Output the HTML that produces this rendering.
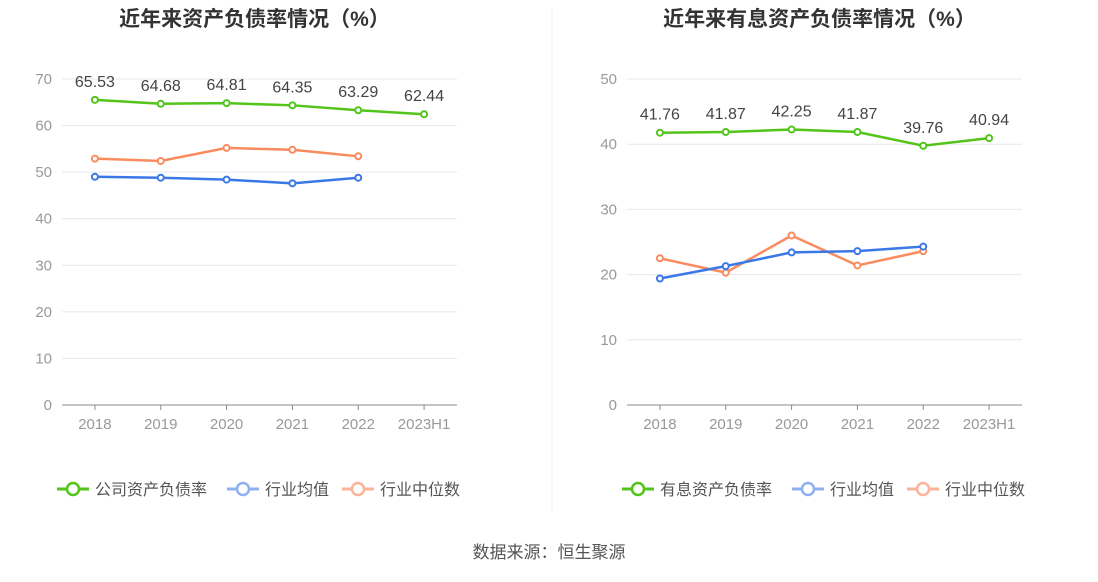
<!DOCTYPE html>
<html><head><meta charset="utf-8">
<style>
body{margin:0;width:1098px;height:577px;background:#fff;font-family:"Liberation Sans","Noto Sans CJK SC",sans-serif;overflow:hidden}
svg text{font-family:"Liberation Sans","Noto Sans CJK SC",sans-serif}
</style></head><body>
<svg id="svg" width="1098" height="577">
<line x1="552" y1="10" x2="552" y2="510" stroke="#eee"/>
<text x="549" y="558" text-anchor="middle" font-size="17" fill="#555">数据来源：恒生聚源</text>
</svg>
<script>
const years=["2018","2019","2020","2021","2022","2023H1"];
const leftCompany=[65.53,64.68,64.81,64.35,63.29,62.44];
const leftAvg=[49.0,48.8,48.4,47.6,48.8];
const leftMed=[52.9,52.4,55.2,54.8,53.4];
const rightCompany=[41.76,41.87,42.25,41.87,39.76,40.94];
const rightAvg=[19.4,21.3,23.4,23.6,24.3];
const rightMed=[22.5,20.3,26.0,21.4,23.6];
const leftTicks=[0,10,20,30,40,50,60,70];
const rightTicks=[0,10,20,30,40,50];
const svg=document.getElementById('svg');const NS="http://www.w3.org/2000/svg";
function mk(t,a,p){const e=document.createElementNS(NS,t);for(const k in a)e.setAttribute(k,a[k]);(p||svg).appendChild(e);return e;}
function chart(o){
 const g=mk('g',{});
 
 
 const x0=o.x0,x1=o.x1,yb=405,yt=79,max=o.ticks[o.ticks.length-1];
 const bw=(x1-x0)/years.length;
 const X=i=>x0+bw*(i+0.5);const Y=v=>yb-(v/max)*(yb-yt);
 const t=mk('text',{x:(x0+x1)/2-5,y:26,'text-anchor':'middle','font-size':21,'font-weight':'bold',fill:'#333'},g);t.textContent=o.title;
 
 
 o.ticks.forEach(v=>{
  if(v>0){const l=mk('line',{x1:x0,x2:x1,y1:Y(v),y2:Y(v),stroke:'#e6e8f0'},g);
  
  }
  const tt=mk('text',{x:x0-10,y:Y(v)+5,'text-anchor':'end','font-size':15,fill:'#999'},g);tt.textContent=v;
  
  
 });
 const ax=mk('line',{x1:x0,x2:x1,y1:yb,y2:yb,stroke:'#888'},g);
 
 
 years.forEach((y,i)=>{
  const tk=mk('line',{x1:X(i),x2:X(i),y1:yb,y2:yb+5,stroke:'#888'},g);
  
  
  const tt=mk('text',{x:X(i),y:429,'text-anchor':'middle','font-size':15,fill:'#999'},g);tt.textContent=y;
  
  
 });
 function series(vals,color,nm,labels){
  const p=mk('polyline',{points:vals.map((v,i)=>X(i)+','+Y(v)).join(' '),fill:'none',stroke:color,'stroke-width':2.5},g);
  
  
  vals.forEach((v,i)=>{
   const c=mk('circle',{cx:X(i),cy:Y(v),r:3,fill:'#fff',stroke:color,'stroke-width':2},g);
   
   
   if(labels){const l=mk('text',{x:X(i),y:Y(v)-13,'text-anchor':'middle','font-size':16,fill:'#444'},g);l.textContent=v.toFixed(2);
   
   }
  });
 }
 series(o.med,'#f98b5e','median');
 series(o.avg,'#3b78e7','average');
 series(o.comp,'#52c41a','company',true);
 const leg=[[o.legend,'#52c41a',o.lx],['行业均值','#8fb0f0',o.lx+170],['行业中位数','#fbb39a',o.lx+285]];
 leg.forEach(([txt,c,lx],k)=>{
  const lg=mk('g',{},g);
  
  
  mk('line',{x1:lx,x2:lx+32,y1:489,y2:489,stroke:c,'stroke-width':3},lg);
  mk('circle',{cx:lx+16,cy:489,r:6,fill:'#fff',stroke:c,'stroke-width':2.5},lg);
  const tt=mk('text',{x:lx+38,y:495,'font-size':16,fill:'#555'},lg);tt.textContent=txt;
 });
}
chart({name:'left-chart',x0:62,x1:457,title:'近年来资产负债率情况（%）',ticks:leftTicks,comp:leftCompany,avg:leftAvg,med:leftMed,legend:'公司资产负债率',lx:57});
chart({name:'right-chart',x0:627,x1:1022,title:'近年来有息资产负债率情况（%）',ticks:rightTicks,comp:rightCompany,avg:rightAvg,med:rightMed,legend:'有息资产负债率',lx:622});
</script>
</body></html>
